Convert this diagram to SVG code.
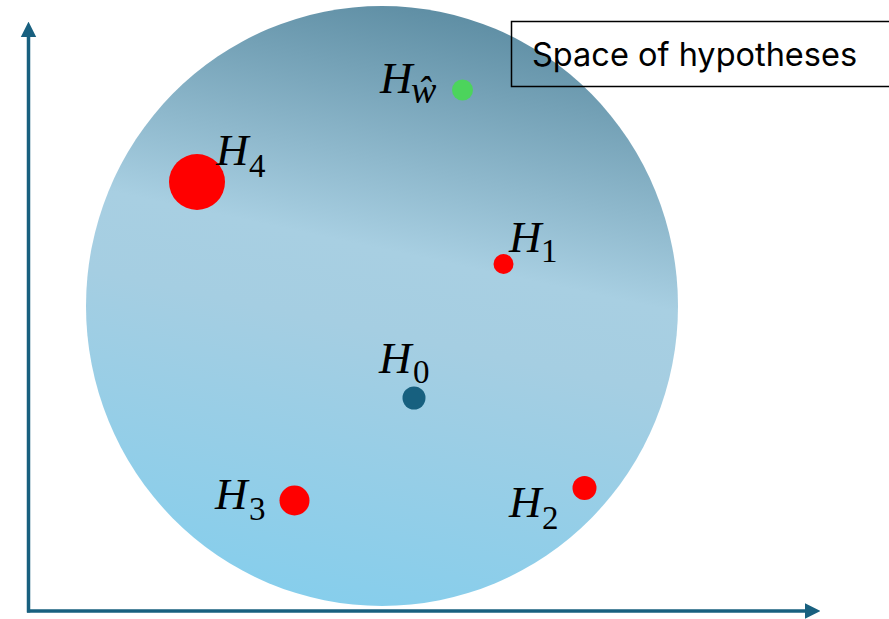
<svg xmlns="http://www.w3.org/2000/svg" width="889" height="619" viewBox="0 0 889 619">
  <style>
    .lbl { font-family: "Liberation Serif", "DejaVu Serif", serif; font-style: italic; font-size: 45px; fill: #000; }
    .sub { font-family: "Liberation Serif", "DejaVu Serif", serif; font-style: normal; font-size: 33px; fill: #000; }
    .subi { font-family: "Liberation Serif", "DejaVu Serif", serif; font-style: italic; font-size: 38px; fill: #000; }
    .red { fill: #ff0000; }
    .axis { stroke: #18607f; stroke-width: 3.5; fill: none; }
    .title { font-family: "Inter", "Liberation Sans", sans-serif; font-size: 32.5px; fill: #000; }
  </style>
  <defs>
    <linearGradient id="space" gradientUnits="userSpaceOnUse" x1="470" y1="0" x2="340" y2="610">
      <stop offset="0" stop-color="#5a8aa0"/>
      <stop offset="0.42" stop-color="#a8cfe2"/>
      <stop offset="0.55" stop-color="#a5cee2"/>
      <stop offset="1" stop-color="#86ceec"/>
    </linearGradient>
    <marker id="arrow" viewBox="0 0 10 10" refX="0" refY="5" markerWidth="4.4" markerHeight="4.6" markerUnits="strokeWidth" orient="auto">
      <path d="M0,0 L10,5 L0,10 Z" fill="#18607f"/>
    </marker>
  </defs>

  <g id="space-of-hypotheses">
    <ellipse cx="382" cy="306" rx="296" ry="300" fill="url(#space)"/>
  </g>

  <g id="connectors">
    <path class="axis" d="M28.5,612.5 L28.5,37" marker-end="url(#arrow)"/>
    <path class="axis" d="M27,611 L805,611" marker-end="url(#arrow)"/>
  </g>

  <g id="legend">
    <rect x="511.5" y="21.5" width="390" height="65" fill="none" stroke="#000" stroke-width="1.5"/>
    <text class="title" x="532" y="66">Space of hypotheses</text>
  </g>

  <g id="H_what">
    <circle cx="462.5" cy="90" r="10.5" fill="#4cd45c"/>
    <text class="lbl" x="380" y="93">H</text>
    <text class="subi" x="411" y="103">ŵ</text>
  </g>

  <g id="H4">
    <circle class="red" cx="197" cy="182" r="28"/>
    <text class="lbl" x="216" y="165">H</text>
    <text class="sub" x="249" y="177">4</text>
  </g>

  <g id="H1">
    <circle class="red" cx="503.5" cy="264" r="10"/>
    <text class="lbl" x="509" y="252">H</text>
    <text class="sub" x="541" y="262">1</text>
  </g>

  <g id="H0">
    <circle cx="414" cy="398" r="11.5" fill="#17607f"/>
    <text class="lbl" x="379" y="373">H</text>
    <text class="sub" x="413" y="383">0</text>
  </g>

  <g id="H2">
    <circle class="red" cx="584.5" cy="488" r="12"/>
    <text class="lbl" x="509" y="517">H</text>
    <text class="sub" x="542" y="529">2</text>
  </g>

  <g id="H3">
    <circle class="red" cx="294.5" cy="500.5" r="15"/>
    <text class="lbl" x="215" y="509">H</text>
    <text class="sub" x="249" y="520">3</text>
  </g>
</svg>
